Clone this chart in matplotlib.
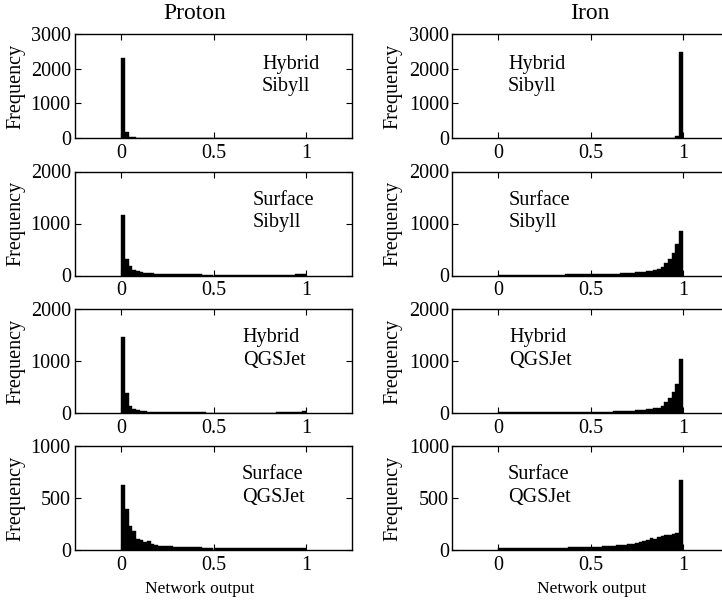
import numpy as np
import matplotlib
matplotlib.use("Agg")
import matplotlib.pyplot as plt

plt.rcParams['font.family'] = ['Liberation Serif', 'DejaVu Serif']

# bin left edges: 50 bins of width 0.02 from 0 to 1
bin_edges = [round(0.02 * i, 2) for i in range(50)]

# Proton, Hybrid Sibyll
p_hyb_sib = [2320, 160, 40, 18, 12, 9, 7, 6, 5, 5, 4, 4, 3, 3, 3, 3, 3, 2, 2, 2,
             2, 2, 2, 2, 2, 2, 2, 2, 2, 2, 2, 2, 2, 2, 2, 2, 2, 2, 2, 2,
             2, 2, 2, 2, 2, 2, 2, 2, 3, 5]
# Iron, Hybrid Sibyll
i_hyb_sib = [1, 1, 1, 1, 1, 1, 1, 1, 1, 1, 1, 1, 1, 1, 1, 1, 1, 1, 1, 1,
             1, 1, 1, 1, 1, 1, 1, 1, 1, 1, 1, 1, 1, 1, 1, 2, 2, 2, 2, 2,
             3, 3, 3, 4, 5, 6, 8, 12, 60, 2480]
# Proton, Surface Sibyll
p_surf_sib = [1165, 315, 175, 115, 85, 65, 55, 48, 42, 38, 35, 32, 30, 28, 26, 25, 24, 23, 22, 21,
              20, 20, 19, 18, 18, 17, 17, 16, 16, 16, 15, 15, 15, 15, 15, 15, 15, 15, 15, 15,
              15, 15, 16, 16, 16, 17, 18, 20, 24, 32]
# Iron, Surface Sibyll
i_surf_sib = [14, 14, 14, 14, 14, 14, 15, 15, 15, 15, 16, 16, 16, 17, 17, 18, 18, 19, 20, 20,
              21, 22, 23, 24, 25, 26, 27, 28, 30, 31, 33, 35, 37, 40, 43, 47, 52, 58, 65, 72,
              80, 90, 100, 130, 160, 240, 320, 430, 600, 865]
# Proton, Hybrid QGSJet
p_hyb_qgs = [1455, 390, 135, 70, 50, 40, 32, 27, 23, 20, 18, 16, 15, 14, 13, 12, 12, 11, 11, 10,
             10, 10, 10, 9, 9, 9, 9, 9, 9, 9, 9, 9, 9, 9, 9, 9, 9, 9, 9, 9,
             9, 9, 10, 10, 10, 11, 12, 14, 20, 30]
# Iron, Hybrid QGSJet
i_hyb_qgs = [10, 10, 10, 10, 10, 10, 10, 10, 11, 11, 11, 11, 12, 12, 12, 13, 13, 14, 14, 15,
             15, 16, 17, 18, 19, 20, 21, 22, 24, 25, 27, 29, 31, 33, 36, 40, 44, 50, 56, 62,
             70, 80, 90, 100, 130, 210, 290, 405, 560, 1035]
# Proton, Surface QGSJet
p_surf_qgs = [625, 390, 230, 185, 105, 100, 75, 90, 55, 45, 40, 38, 36, 34, 32, 30, 29, 28, 27, 26,
              25, 25, 24, 24, 23, 23, 22, 22, 22, 21, 21, 21, 21, 20, 20, 20, 20, 20, 20, 20,
              20, 20, 20, 20, 20, 20, 20, 20, 21, 22]
# Iron, Surface QGSJet
i_surf_qgs = [20, 19, 19, 19, 19, 19, 19, 20, 20, 20, 20, 21, 21, 21, 22, 22, 23, 23, 24, 25,
              25, 26, 27, 28, 29, 30, 32, 33, 35, 37, 39, 41, 44, 47, 50, 55, 60, 70, 80, 90,
              100, 115, 110, 125, 135, 140, 145, 150, 160, 675]

row_labels = [["Hybrid", "Sibyll"], ["Surface", "Sibyll"], ["Hybrid", "QGSJet"], ["Surface", "QGSJet"]]
row_ymax = [3000, 2000, 2000, 1000]
row_yticks = [[0, 1000, 2000, 3000], [0, 1000, 2000], [0, 1000, 2000], [0, 500, 1000]]
col_titles = ["Proton", "Iron"]
x_ticks = [0, 0.5, 1]
x_ticklabels = ["0", "0.5", "1"]

data = [[p_hyb_sib, i_hyb_sib], [p_surf_sib, i_surf_sib],
        [p_hyb_qgs, i_hyb_qgs], [p_surf_qgs, i_surf_qgs]]

W, H = 722, 613
fig = plt.figure(figsize=(W / 100, H / 100), dpi=100)

lefts = [75, 452]
axw = 277
tops = [34, 171.5, 309, 446]
axh = 104
fs = 14.5
ylab_x = [16, 393]   # centre x of the "Frequency" labels, px

text_pos = [
    [(0.675, 0.60), (0.202, 0.60)],
    [(0.643, 0.617), (0.206, 0.617)],
    [(0.606, 0.614), (0.206, 0.614)],
    [(0.603, 0.615), (0.202, 0.615)],
]

for r in range(4):
    for c in range(2):
        vals = data[r][c]
        ax = fig.add_axes([lefts[c] / W, 1 - (tops[r] + axh) / H, axw / W, axh / H])
        ax.bar(bin_edges, vals, width=0.02, align='edge', color='black', edgecolor='black', linewidth=0.3)
        ax.set_xlim(-0.25, 1.25)
        ax.set_ylim(0, row_ymax[r])
        ax.set_xticks(x_ticks)
        ax.set_xticklabels(x_ticklabels)
        ax.set_yticks(row_yticks[r])
        ax.set_yticklabels([str(v) for v in row_yticks[r]])
        ax.tick_params(direction='in', top=True, right=True, length=4, width=0.8,
                       labelsize=fs, pad=4)
        ax.tick_params(axis='y', pad=3 if c == 0 else 2)
        for s in ax.spines.values():
            s.set_linewidth(1.0)
        ycen = 1 - (tops[r] + axh / 2) / H
        fig.text(ylab_x[c] / W, ycen, "Frequency", rotation=90, ha='center', va='center',
                 fontsize=fs)
        tx, ty = text_pos[r][c]
        lbl = row_labels[r]
        ax.text(tx, ty, lbl[0] + "\n" + lbl[1], transform=ax.transAxes, ha='left', va='center',
                fontsize=fs, linespacing=1.25)

fig.text(195 / W, 1 - 19 / H, col_titles[0], ha='center', va='baseline', fontsize=17)
fig.text(590 / W, 1 - 19 / H, col_titles[1], ha='center', va='baseline', fontsize=17)
fig.text(200 / W, 1 - 589 / H, "Network output", ha='center', va='center', fontsize=12.5)
fig.text(592 / W, 1 - 589 / H, "Network output", ha='center', va='center', fontsize=12.5)

fig.savefig("out.png", dpi=100)
